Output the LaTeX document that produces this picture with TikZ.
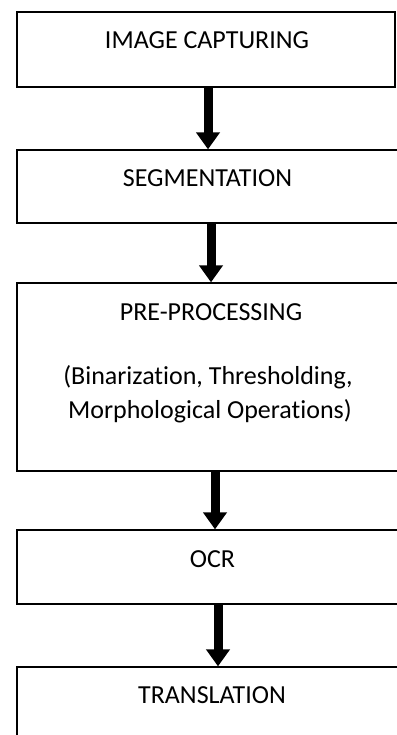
\documentclass[tikz,border=0pt]{standalone}
\usepackage{fontspec}
\setmainfont[Ligatures=NoCommon]{Carlito}
\usetikzlibrary{arrows.meta}
\tikzstyle{Kasten}= [rectangle,draw,line width=1.3pt,inner sep=0pt]
\tikzstyle{Schrift}= [anchor=base,inner sep=0pt,font=\fontsize{26}{34}\selectfont]
\tikzstyle{Pfeil}= [line width=9pt,-{Triangle[length=17pt,width=23pt]}]

\begin{document}
\begin{tikzpicture}[x=1pt,y=1pt]

		\useasboundingbox (0,0) rectangle (396,-735);

		\node [Kasten,minimum width=378,minimum height=75] (0) at (206,-49.5) {};
		\node [Kasten,minimum width=392,minimum height=73] (1) at (213,-186.5) {};
		\node [Kasten,minimum width=392,minimum height=188] (2) at (213,-377) {};
		\node [Kasten,minimum width=392,minimum height=74] (3) at (213,-567) {};
		\node [Kasten,minimum width=392,minimum height=75] (4) at (213,-704.5) {};

		\node [Schrift] (t0) at (207,-49) {IMAGE CAPTURING};
		\node [Schrift] (t1) at (207.5,-187) {SEGMENTATION};
		\node [Schrift] (t2) at (211,-320) {PRE-PROCESSING};
		\node [Schrift] (t2a) at (208,-384) {(Binarization, Thresholding,};
		\node [Schrift] (t2b) at (210,-418) {Morphological Operations)};
		\node [Schrift] (t3) at (212.5,-567) {OCR};
		\node [Schrift] (t4) at (212,-703) {TRANSLATION};

		\draw[Pfeil]
		([xshift=2pt]0.south) -- ([xshift=2pt]0.south |- 1.north);
		\draw[Pfeil]
		([xshift=-2pt]1.south) -- ([xshift=-2pt]1.south |- 2.north);
		\draw[Pfeil]
		([xshift=2pt]2.south) -- ([xshift=2pt]2.south |- 3.north);
		\draw[Pfeil]
		([xshift=5pt]3.south) -- ([xshift=5pt]3.south |- 4.north);

\end{tikzpicture}
\end{document}
